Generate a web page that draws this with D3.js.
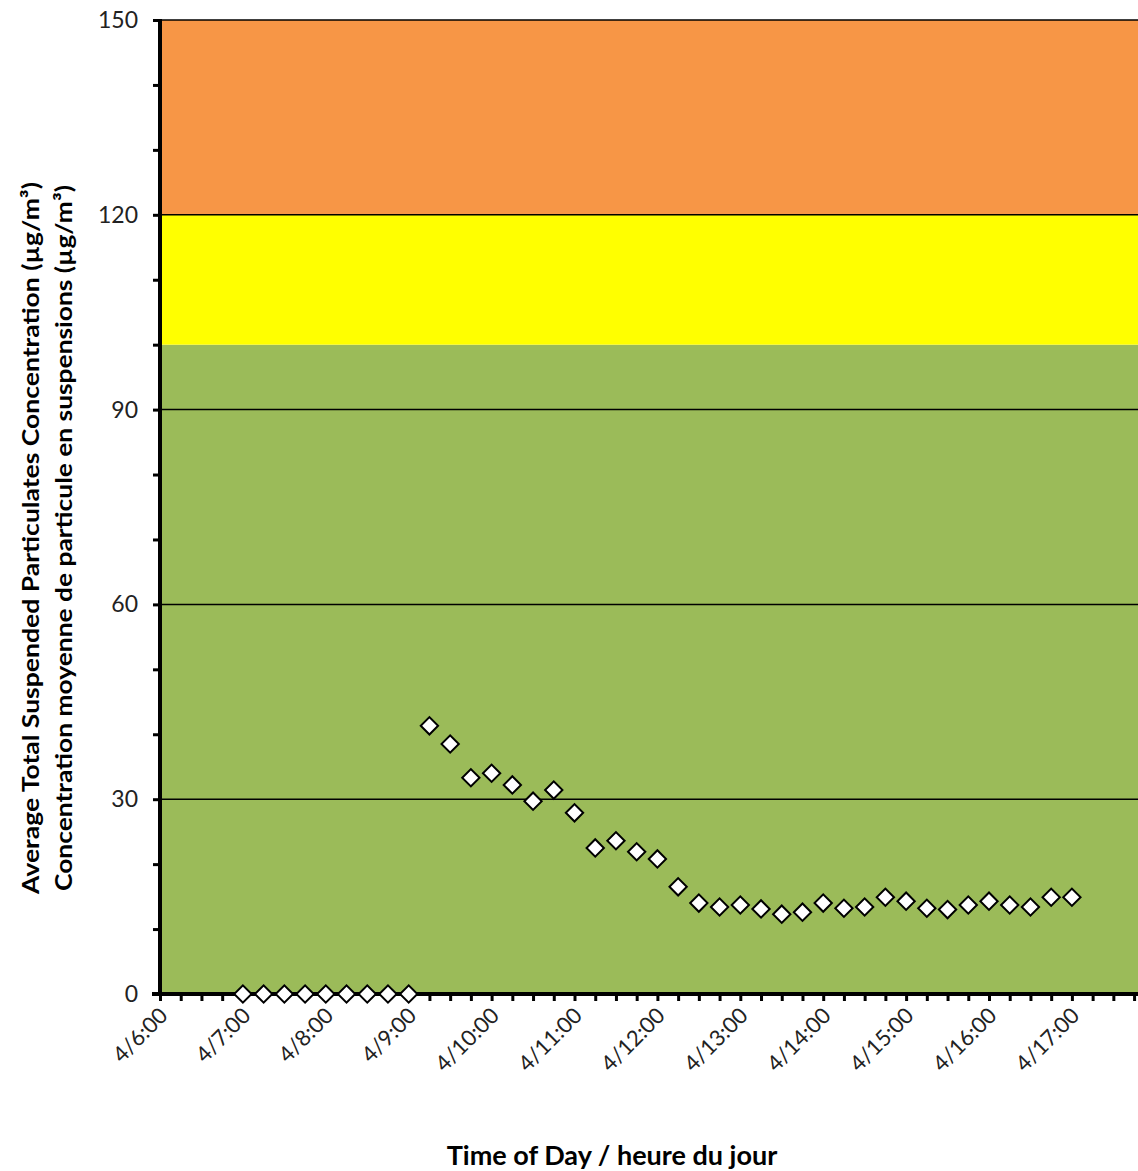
<!DOCTYPE html>
<html>
<head>
<meta charset="utf-8">
<script src="https://cdn.jsdelivr.net/npm/d3@7"></script>
<style>
  body { margin: 0; background: #fff; }
  text { font-family: Lato, "Open Sans", sans-serif; }
</style>
</head>
<body>
<svg></svg>
<script>
// data: 15-minute readings, hours as decimal (6 = 4/6:00)
var times = [7, 7.25, 7.5, 7.75, 8, 8.25, 8.5, 8.75, 9,
  9.25, 9.5, 9.75, 10, 10.25, 10.5, 10.75, 11, 11.25, 11.5, 11.75, 12,
  12.25, 12.5, 12.75, 13, 13.25, 13.5, 13.75, 14, 14.25, 14.5, 14.75, 15,
  15.25, 15.5, 15.75, 16, 16.25, 16.5, 16.75, 17];
var values = [0, 0, 0, 0, 0, 0, 0, 0, 0,
  41.3, 38.5, 33.3, 34.0, 32.2, 29.7, 31.4, 27.9, 22.5, 23.6, 21.9, 20.8,
  16.5, 14.0, 13.4, 13.7, 13.1, 12.3, 12.6, 14.0, 13.2, 13.4, 14.9, 14.3,
  13.2, 13.0, 13.7, 14.3, 13.7, 13.4, 14.9, 14.9];
var hourTicks = [6, 7, 8, 9, 10, 11, 12, 13, 14, 15, 16, 17];
var yTicks = [0, 30, 60, 90, 120, 150];
var bands = [
  {from: 0, to: 100, color: "#9bbb59"},
  {from: 100, to: 120, color: "#ffff00"},
  {from: 120, to: 150, color: "#f79646"}
];

var W = 1138, H = 1171;
var plotLeft = 160, plotTop = 20, plotBottom = 994;

var svg = d3.select("svg").attr("width", W).attr("height", H);

var x = d3.scaleLinear().domain([6, 18]).range([plotLeft, plotLeft + 12 * 82.9]);
var y = d3.scaleLinear().domain([0, 150]).range([plotBottom, plotTop]);

// background bands
svg.append("g").selectAll("rect")
    .data(bands)
    .enter().append("rect")
    .attr("x", plotLeft)
    .attr("y", function(d) { return y(d.to); })
    .attr("width", W - plotLeft)
    .attr("height", function(d) { return y(d.from) - y(d.to); })
    .attr("fill", function(d) { return d.color; });

// gridlines
svg.append("g").selectAll("line")
    .data(yTicks.slice(1))
    .enter().append("line")
    .attr("x1", plotLeft).attr("x2", W)
    .attr("y1", function(d) { return y(d); })
    .attr("y2", function(d) { return y(d); })
    .attr("stroke", "#000").attr("stroke-width", 1.5);

// y axis
var yAxis = svg.append("g").attr("transform", "translate(" + plotLeft + ",0)");
yAxis.call(d3.axisLeft(y).tickValues(d3.range(0, 151, 10)).tickSize(7).tickFormat(""));
yAxis.select(".domain").remove();
yAxis.selectAll(".tick line").attr("stroke-width", 3);
yAxis.append("line").attr("y1", plotTop - 1).attr("y2", plotBottom + 2)
    .attr("stroke", "#000").attr("stroke-width", 4);
yAxis.selectAll(".ylab")
    .data(yTicks)
    .enter().append("text")
    .attr("class", "ylab")
    .attr("x", -22)
    .attr("y", function(d) { return y(d); })
    .attr("dy", "0.35em")
    .attr("text-anchor", "end")
    .attr("font-size", 23)
    .attr("fill", "#222")
    .text(function(d) { return d; });

// x axis
var xAxis = svg.append("g").attr("transform", "translate(0," + plotBottom + ")");
xAxis.call(d3.axisBottom(x).tickValues(d3.range(6, 18.01, 0.25)).tickSize(7).tickFormat(""));
xAxis.select(".domain").remove();
xAxis.selectAll(".tick line").attr("stroke-width", 3);
xAxis.append("line").attr("x1", plotLeft - 8).attr("x2", W)
    .attr("stroke", "#000").attr("stroke-width", 4);
xAxis.selectAll(".xlab")
    .data(hourTicks)
    .enter().append("text")
    .attr("class", "xlab")
    .attr("transform", function(d) { return "translate(" + (x(d) + 9) + ",23) rotate(-45)"; })
    .attr("text-anchor", "end")
    .attr("font-size", 22)
    .attr("fill", "#222")
    .text(function(d) { return "4/" + d + ":00"; });

// points
var diamond = d3.symbol().type(d3.symbolSquare).size(150);
svg.append("g").selectAll("path")
    .data(times)
    .enter().append("path")
    .attr("d", diamond)
    .attr("transform", function(d, i) {
      return "translate(" + x(d) + "," + y(values[i]) + ") rotate(45)";
    })
    .attr("fill", "#fff")
    .attr("stroke", "#000")
    .attr("stroke-width", 2);

// axis titles
svg.append("text")
    .attr("x", 612).attr("y", 1165)
    .attr("text-anchor", "middle")
    .attr("font-size", 27).attr("font-weight", "bold")
    .text("Time of Day / heure du jour");

var yt = svg.append("text")
    .attr("transform", "translate(39,538) rotate(-90)")
    .attr("text-anchor", "middle")
    .attr("font-size", 23).attr("font-weight", "bold");
yt.append("tspan").attr("x", 0).attr("dy", 0)
    .attr("textLength", 712).attr("lengthAdjust", "spacingAndGlyphs")
    .text("Average Total Suspended Particulates Concentration (µg/m³)");
yt.append("tspan").attr("x", 0).attr("dy", 33)
    .attr("textLength", 706).attr("lengthAdjust", "spacingAndGlyphs")
    .text("Concentration moyenne de particule en suspensions (µg/m³)");
</script>
</body>
</html>
